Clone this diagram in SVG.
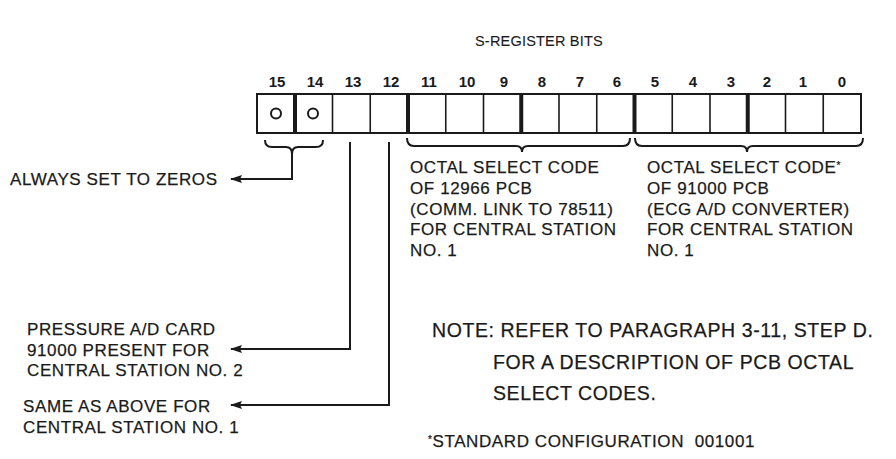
<svg xmlns="http://www.w3.org/2000/svg" width="896" height="459" viewBox="0 0 896 459">
<defs>
<style>
.t{font-family:"Liberation Sans",Arial,sans-serif;font-size:17px;letter-spacing:0.6px;fill:#1a1a1a;stroke:#1a1a1a;stroke-width:0.25px;white-space:pre}
.n{font-family:"Liberation Sans",Arial,sans-serif;font-size:19.5px;letter-spacing:0.6px;fill:#1a1a1a;stroke:#1a1a1a;stroke-width:0.25px}
.b{font-family:"Liberation Sans",Arial,sans-serif;font-size:15px;font-weight:bold;fill:#1a1a1a;text-anchor:middle}
.ln{fill:none;stroke:#1a1a1a;stroke-width:2}
.thin{stroke:#1a1a1a;stroke-width:1.6}
.thick{stroke:#1a1a1a;stroke-width:4}
</style>
<marker id="ah" viewBox="0 0 12 8" refX="11" refY="4" markerWidth="12" markerHeight="8" markerUnits="userSpaceOnUse" orient="auto">
<path d="M12,4 L0,0 L2,4 L0,8 Z" fill="#1a1a1a"/>
</marker>
</defs>
<rect width="896" height="459" fill="#fff"/>
<text class="t" x="475" y="46" style="font-size:14.5px;letter-spacing:0.2px;stroke-width:0.1px">S-REGISTER BITS</text>

<g id="register">
<g class="b">
<text x="277" y="87">15</text><text x="315" y="87">14</text><text x="353" y="87">13</text><text x="391" y="87">12</text>
<text x="429" y="87">11</text><text x="467" y="87">10</text><text x="504" y="87">9</text><text x="542" y="87">8</text>
<text x="580" y="87">7</text><text x="617" y="87">6</text><text x="655" y="87">5</text><text x="693" y="87">4</text>
<text x="731" y="87">3</text><text x="767" y="87">2</text><text x="803" y="87">1</text><text x="842" y="87">0</text>
</g>
<rect x="257" y="94" width="604" height="39" class="ln"/>
<g class="thin">
<line x1="332.5" y1="94" x2="332.5" y2="133"/><line x1="370.25" y1="94" x2="370.25" y2="133"/>
<line x1="445.75" y1="94" x2="445.75" y2="133"/><line x1="483.5" y1="94" x2="483.5" y2="133"/>
<line x1="559" y1="94" x2="559" y2="133"/><line x1="596.75" y1="94" x2="596.75" y2="133"/>
<line x1="672.25" y1="94" x2="672.25" y2="133"/><line x1="710" y1="94" x2="710" y2="133"/>
<line x1="785.5" y1="94" x2="785.5" y2="133"/><line x1="823.25" y1="94" x2="823.25" y2="133"/>
</g>
<g class="thick">
<line x1="295" y1="94" x2="295" y2="133"/><line x1="408" y1="94" x2="408" y2="133"/>
<line x1="521.25" y1="94" x2="521.25" y2="133"/><line x1="634.5" y1="94" x2="634.5" y2="133"/>
<line x1="747.75" y1="94" x2="747.75" y2="133"/>
</g>
<circle cx="276" cy="113.5" r="5" class="ln"/>
<circle cx="313" cy="113.5" r="5" class="ln"/>
</g>

<g id="connectors">
<path class="ln" d="M265,140 Q265,147 272,147 L286,147 Q292,147 292,154 Q292,147 298,147 L316,147 Q323,147 323,140"/>
<path class="ln" d="M407,138 Q407,146 414,146 L516,146 Q522,146 522,152 Q522,146 528,146 L623,146 Q630,146 630,138"/>
<path class="ln" d="M635,138 Q635,146 642,146 L741,146 Q747,146 747,152 Q747,146 753,146 L856,146 Q863,146 863,138"/>
<path class="ln" d="M292,154 L292,179 L231,179" marker-end="url(#ah)"/>
<path class="ln" d="M350,142 L350,349 L231,349" marker-end="url(#ah)"/>
<path class="ln" d="M389,142 L389,405 L231,405" marker-end="url(#ah)"/>
</g>

<g id="zeros"><text class="t" x="10" y="185">ALWAYS SET TO ZEROS</text></g>

<g id="octal1">
<text class="t" x="410" y="173">OCTAL SELECT CODE</text>
<text class="t" x="410" y="194">OF 12966 PCB</text>
<text class="t" x="410" y="215">(COMM. LINK TO 78511)</text>
<text class="t" x="410" y="235">FOR CENTRAL STATION</text>
<text class="t" x="410" y="256">NO. 1</text>
</g>
<g id="octal2">
<text class="t" x="647" y="173">OCTAL SELECT CODE<tspan style="font-size:10px" dy="-4">*</tspan></text>
<text class="t" x="647" y="194">OF 91000 PCB</text>
<text class="t" x="647" y="215">(ECG A/D CONVERTER)</text>
<text class="t" x="647" y="235">FOR CENTRAL STATION</text>
<text class="t" x="647" y="256">NO. 1</text>
</g>

<g id="pressure">
<text class="t" x="27" y="335">PRESSURE A/D CARD</text>
<text class="t" x="27" y="356">91000 PRESENT FOR</text>
<text class="t" x="27" y="376">CENTRAL STATION NO. 2</text>
</g>
<g id="same">
<text class="t" x="23" y="412">SAME AS ABOVE FOR</text>
<text class="t" x="23" y="433">CENTRAL STATION NO. 1</text>
</g>

<g id="note">
<text class="n" x="432" y="337">NOTE: REFER TO PARAGRAPH 3-11, STEP D.</text>
<text class="n" x="493" y="369">FOR A DESCRIPTION OF PCB OCTAL</text>
<text class="n" x="493" y="400">SELECT CODES.</text>
</g>
<g id="footnote"><text class="t" x="428" y="447"><tspan style="font-size:10px" dy="-4">*</tspan><tspan dy="4">STANDARD CONFIGURATION  001001</tspan></text></g>
</svg>
